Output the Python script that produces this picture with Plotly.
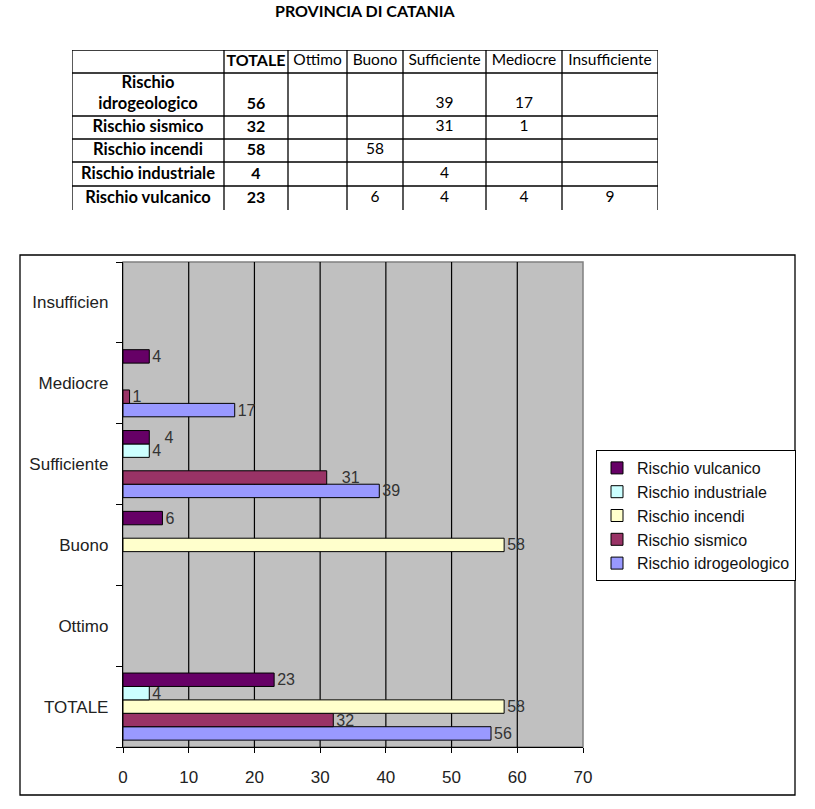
import plotly.graph_objects as go

W, H = 815, 809

def px(x):
    return x / W

def py(y):
    return 1 - y / H

# ---- data ----
title = "PROVINCIA DI CATANIA"
table_cols = ["TOTALE", "Ottimo", "Buono", "Sufficiente", "Mediocre", "Insufficiente"]
row_names = ["Rischio<br>idrogeologico", "Rischio sismico", "Rischio incendi",
             "Rischio industriale", "Rischio vulcanico"]
idrogeologico = [56, None, None, 39, 17, None]
sismico = [32, None, None, 31, 1, None]
incendi = [58, None, 58, None, None, None]
industriale = [4, None, None, 4, None, None]
vulcanico = [23, None, 6, 4, 4, 9]

chart_categories = ["TOTALE", "Ottimo", "Buono", "Sufficiente", "Mediocre", "Insufficien"]
series_names = ["Rischio idrogeologico", "Rischio sismico", "Rischio incendi",
                "Rischio industriale", "Rischio vulcanico"]
series_rows = [idrogeologico, sismico, incendi, industriale, vulcanico]
colors = ["#9999FF", "#993366", "#FFFFCC", "#CCFFFF", "#660066"]
x_ticks = [0, 10, 20, 30, 40, 50, 60, 70]

# labels that the original chart nudges to the right to avoid collisions
nudged = {("Rischio vulcanico", "Sufficiente"), ("Rischio sismico", "Sufficiente")}
NUDGE = "\u2007\u2009"

# ---- layout geometry (pixels) ----
col_edges = [72, 224, 288, 347, 403, 486, 562, 658]
row_edges = [50, 73, 116, 139, 162, 186, 210]
TFONT = "Lato, Open Sans, sans-serif"
AFONT = "Arial, Liberation Sans, sans-serif"

fig = go.Figure()

# ---- table (drawn on a hidden pixel axis pair) ----
tx, ty, tt, ts = [], [], [], []
header = [""] + ["<b>%s</b>" % table_cols[0]] + table_cols[1:]
for c, h in enumerate(header):
    tx.append((col_edges[c] + col_edges[c + 1]) / 2)
    ty.append((row_edges[0] + row_edges[1]) / 2)
    tt.append(h)
    ts.append(16 if "<b>" in h else 15.5)
for r, (name, vals) in enumerate(zip(row_names, series_rows)):
    top, bot = row_edges[r + 1], row_edges[r + 2]
    cells = ["<b>%s</b>" % name] + [
        "" if v is None else ("<b>%d</b>" % v if j == 0 else str(v))
        for j, v in enumerate(vals)]
    for c, s in enumerate(cells):
        tx.append((col_edges[c] + col_edges[c + 1]) / 2)
        ty.append((top + bot) / 2 if "<br>" in s else bot - 11.5)
        tt.append(s)
        ts.append(16.5 if c == 0 else (16 if "<b>" in s else 15.5))

fig.add_trace(go.Scatter(
    x=tx, y=ty, text=tt, mode="text", textposition="middle center",
    textfont=dict(family=TFONT, size=ts, color="black"),
    xaxis="x2", yaxis="y2", showlegend=False, hoverinfo="skip"))

shapes = []
for y in row_edges[:-1]:
    shapes.append(dict(type="line", xref="x2", yref="y2", x0=col_edges[0],
                       x1=col_edges[-1], y0=y, y1=y, line=dict(color="black", width=1.3)))
for x in col_edges:
    shapes.append(dict(type="line", xref="x2", yref="y2", x0=x, x1=x,
                       y0=row_edges[0], y1=row_edges[-1], line=dict(color="black", width=1.3)))

# ---- bars ----
for name, vals, col in zip(series_names, series_rows, colors):
    cv = vals[:5] + [None]   # the chart leaves Insufficiente empty
    labels = []
    for cat, v in zip(chart_categories, cv):
        if v is None:
            labels.append(None)
        else:
            labels.append((NUDGE if (name, cat) in nudged else "") + str(v))
    fig.add_trace(go.Bar(
        y=chart_categories, x=cv, name=name, orientation="h",
        marker=dict(color=col, line=dict(color="black", width=1)),
        text=labels,
        textposition="outside", cliponaxis=False, constraintext="none",
        textfont=dict(family=AFONT, size=16, color="#333333"),
    ))

# plot area background + grid
shapes.insert(0, dict(type="rect", xref="x domain", yref="y domain", x0=0, x1=1, y0=0, y1=1,
                      fillcolor="#C0C0C0", line=dict(color="#808080", width=1.5), layer="below"))
for t in x_ticks[1:-1]:
    shapes.append(dict(type="line", xref="x", yref="y domain", x0=t, x1=t, y0=0, y1=1,
                       line=dict(color="black", width=1.2), layer="below"))
# chart border
shapes.append(dict(type="rect", xref="paper", yref="paper",
                   x0=px(20), x1=px(795), y0=py(795), y1=py(255),
                   line=dict(color="black", width=1.3), fillcolor="rgba(0,0,0,0)",
                   layer="below"))

fig.update_layout(
    width=W, height=H,
    margin=dict(l=0, r=0, t=0, b=0, autoexpand=False),
    paper_bgcolor="white", plot_bgcolor="white",
    barmode="group", bargap=0.17, bargroupgap=0,
    font=dict(family=AFONT, size=17, color="#222222"),
    showlegend=True,
    legend=dict(x=px(596), y=py(450), xanchor="left", yanchor="top",
                traceorder="reversed", bgcolor="white", bordercolor="black",
                borderwidth=1, font=dict(family=AFONT, size=16, color="#111111"),
                itemwidth=30, tracegroupgap=0),
    xaxis=dict(domain=[px(123), px(583)], range=[0, 70], tickvals=x_ticks,
               showgrid=False, automargin=False, ticklabelstandoff=9,
               showline=True, linecolor="black", linewidth=1.3, ticks="outside", ticklen=5,
               tickcolor="black", zeroline=False, fixedrange=True),
    yaxis=dict(domain=[py(747), py(262)], type="category",
               categoryorder="array", categoryarray=chart_categories,
               tickson="boundaries", ticks="outside", ticklen=6, tickcolor="black",
               automargin=False, ticklabelstandoff=10,
               showline=True, linecolor="black", linewidth=1.3, showgrid=False, fixedrange=True),
    xaxis2=dict(domain=[px(col_edges[0]), px(col_edges[-1])],
                range=[col_edges[0], col_edges[-1]], visible=False, anchor="y2",
                fixedrange=True),
    yaxis2=dict(domain=[py(row_edges[-1]), py(row_edges[0])],
                range=[row_edges[-1], row_edges[0]], visible=False, anchor="x2",
                fixedrange=True),
    shapes=shapes,
    annotations=[dict(text="<b>%s</b>" % title, x=px(365), y=py(10),
                      xref="paper", yref="paper", showarrow=False, yanchor="middle",
                      font=dict(family=TFONT, size=16, color="black"))],
)

# remove the browser's default 8px page margin so the figure fills the window exactly
fig.write_html("out.html", config={"displayModeBar": False},
               post_script="document.body.style.margin='0';document.body.style.overflow='hidden';")
